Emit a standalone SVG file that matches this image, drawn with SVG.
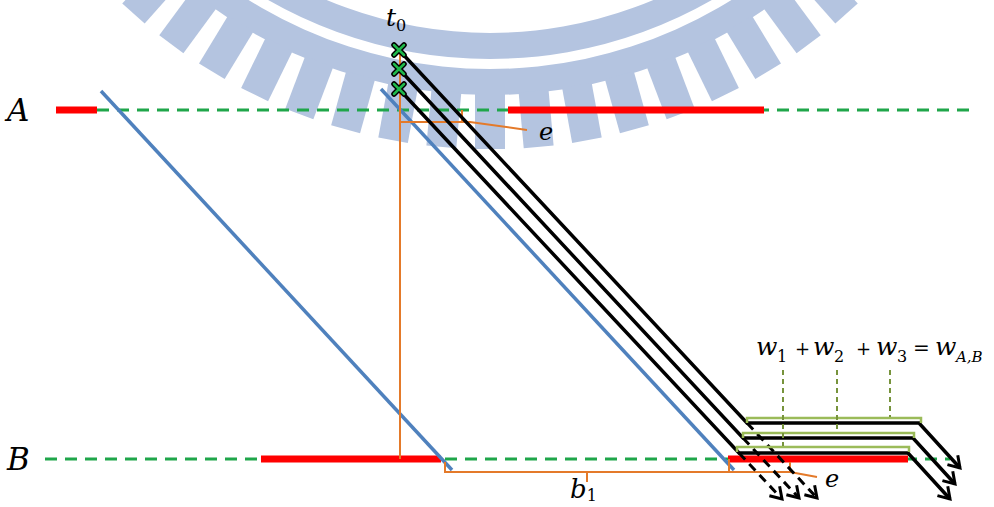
<svg xmlns="http://www.w3.org/2000/svg" width="994" height="507" viewBox="0 0 994 507">
<style>
.wm{fill:#b4c4e0}
.tl{stroke:#1fa64a;stroke-width:3;stroke-dasharray:12 8;fill:none}
.red{stroke:#ff0000;stroke-width:7;fill:none}
.blue{stroke:#4f81bd;stroke-width:3.5;fill:none}
.org{stroke:#e47a2a;stroke-width:2;fill:none}
.blk{stroke:#000;stroke-width:3.5;fill:none}
.blkd{stroke:#000;stroke-width:3;fill:none;stroke-dasharray:9 6}
.brk{stroke:#9bbb59;stroke-width:2.5;fill:none}
.ld{stroke:#77933c;stroke-width:2;fill:none;stroke-dasharray:5 4}
.m{font-family:"DejaVu Serif","Liberation Serif",serif;font-style:italic;fill:#000}
.n{font-family:"DejaVu Serif","Liberation Serif",serif;font-style:normal;fill:#000}
</style>
<defs>
<marker id="ah" markerUnits="userSpaceOnUse" markerWidth="18" markerHeight="18" refX="13" refY="9" orient="auto">
<path d="M2,2 L13,9 L2,16" stroke="#000" stroke-width="3" fill="none" stroke-dasharray="none"/>
</marker>
<g id="tooth"><rect x="-15" y="481" width="30" height="56"/></g>
</defs>
<g id="watermark" class="wm" transform="translate(490,-388)">
<path d="M-287.3,342.4 A447,447 0 0 0 287.3,342.4 L270.6,322.5 A421,421 0 0 1 -270.6,322.5 Z"/>
<path d="M-358.9,323.2 A483,483 0 0 0 358.9,323.2 L339.6,305.8 A457,457 0 0 1 -339.6,305.8 Z"/>
<use href="#tooth" transform="rotate(41.6)"/>
<use href="#tooth" transform="rotate(36.4)"/>
<use href="#tooth" transform="rotate(31.2)"/>
<use href="#tooth" transform="rotate(26)"/>
<use href="#tooth" transform="rotate(20.8)"/>
<use href="#tooth" transform="rotate(15.6)"/>
<use href="#tooth" transform="rotate(10.4)"/>
<use href="#tooth" transform="rotate(5.2)"/>
<use href="#tooth" transform="rotate(0)"/>
<use href="#tooth" transform="rotate(-5.2)"/>
<use href="#tooth" transform="rotate(-10.4)"/>
<use href="#tooth" transform="rotate(-15.6)"/>
<use href="#tooth" transform="rotate(-20.8)"/>
<use href="#tooth" transform="rotate(-26)"/>
<use href="#tooth" transform="rotate(-31.2)"/>
<use href="#tooth" transform="rotate(-36.4)"/>
<use href="#tooth" transform="rotate(-41.6)"/>
</g>
<g id="timeline-A">
<line class="tl" x1="97" y1="110" x2="975" y2="110"/>
<line class="red" x1="56" y1="110" x2="97" y2="110"/>
<line class="red" x1="508" y1="110" x2="764" y2="110"/>
<text class="m" x="7" y="121" font-size="31">A</text>
</g>
<g id="timeline-B">
<line class="tl" x1="45" y1="459" x2="950" y2="459"/>
<line class="red" x1="261" y1="459" x2="441" y2="459"/>
<line class="red" x1="728" y1="459" x2="908" y2="459"/>
<text class="m" x="7" y="470" font-size="31">B</text>
</g>
<g id="connectors">
<line class="blue" x1="101" y1="91" x2="452" y2="470"/>
<line class="blue" x1="381" y1="89" x2="734" y2="470"/>
<path class="org" d="M400,52 V459"/>
<path class="org" d="M400,122 H470 L527,130 M462,110 V122"/>
<path class="org" d="M445,462 V472 H790 V462 M729,459 V472 M587,472 V482 M790,472 L817,477"/>
<path class="blkd" d="M747,423 L817,498" marker-end="url(#ah)"/>
<path class="blkd" d="M743,438 L799,498" marker-end="url(#ah)"/>
<path class="blkd" d="M739,453 L782,499" marker-end="url(#ah)"/>
<path class="blk" d="M399,50 L747,423 H919 L960,468" marker-end="url(#ah)"/>
<path class="blk" d="M399,69 L743,438 H913 L955,484" marker-end="url(#ah)"/>
<path class="blk" d="M399,89 L739,453 H908 L950,499" marker-end="url(#ah)"/>
<path class="brk" d="M747,423 V418 H921 V423"/>
<path class="brk" d="M743,438 V433 H914 V438"/>
<path class="brk" d="M737,452 V447 H909 V452"/>
<line class="ld" x1="783" y1="370" x2="783" y2="446"/>
<line class="ld" x1="837" y1="370" x2="837" y2="432"/>
<line class="ld" x1="890" y1="370" x2="890" y2="417"/>
</g>
<g id="marks">
<g stroke-linecap="round">
<path d="M394,45 L404,55 M404,45 L394,55 M394,64 L404,74 M404,64 L394,74 M394,84 L404,94 M404,84 L394,94" stroke="#000" stroke-width="5.5"/>
<path d="M394,45 L404,55 M404,45 L394,55 M394,64 L404,74 M404,64 L394,74 M394,84 L404,94 M404,84 L394,94" stroke="#1fb84a" stroke-width="2.5"/>
</g>
</g>
<g id="labels">
<text class="m" x="386" y="26" font-size="25">t<tspan class="n" font-size="16" dy="5">0</tspan></text>
<text class="m" x="539" y="140" font-size="24">e</text>
<text class="m" x="825" y="487" font-size="24">e</text>
<text class="m" x="570" y="498" font-size="26">b<tspan class="n" font-size="16" dy="3">1</tspan></text>
<text font-size="25" y="355">
<tspan class="m" x="756">w</tspan><tspan class="n" x="777" dy="7" font-size="16">1</tspan>
<tspan class="n" x="795" dy="-7" font-size="18">+</tspan>
<tspan class="m" x="813">w</tspan><tspan class="n" x="834" dy="7" font-size="16">2</tspan>
<tspan class="n" x="856" dy="-7" font-size="18">+</tspan>
<tspan class="m" x="876">w</tspan><tspan class="n" x="897" dy="7" font-size="16">3</tspan>
<tspan class="n" x="913" dy="-7" font-size="20">=</tspan>
<tspan class="m" x="935">w</tspan><tspan class="m" x="956" dy="7" font-size="15">A,B</tspan>
</text>
</g>
</svg>
